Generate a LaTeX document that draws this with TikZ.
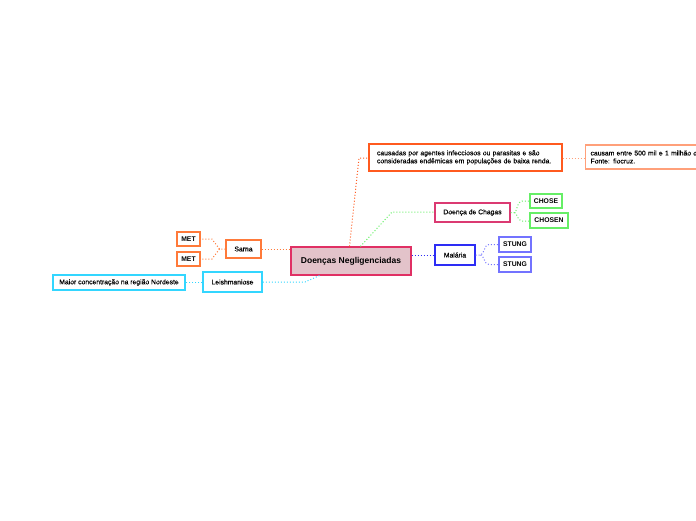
\documentclass[tikz,border=0pt]{standalone}
\usepackage{fontspec}
\setmainfont{Liberation Sans}
\newfontfamily\regf{Liberation Sans}[FakeBold=0.35]
\definecolor{cenfill}{RGB}{227,195,202}
\definecolor{CenBorder}{RGB}{224,48,100}
\definecolor{orbord}{RGB}{255,90,31}
\definecolor{salbord}{RGB}{255,160,122}
\definecolor{chagbord}{RGB}{219,58,114}
\definecolor{grbord}{RGB}{102,238,102}
\definecolor{MalBlue}{RGB}{45,45,245}
\definecolor{stbord}{RGB}{115,115,255}
\definecolor{sabord}{RGB}{255,122,58}
\definecolor{cybord}{RGB}{51,214,255}
\tikzset{
  box/.style={draw, line width=1.1pt, fill=white, rectangle, inner sep=0pt,
    font=\regf\fontsize{6.8}{8}\selectfont},
  bbox/.style={box, font=\fontsize{6.8}{8}\bfseries\selectfont},
  link/.style={dotted, line width=1pt},
}
\begin{document}
\begin{tikzpicture}[x=1pt,y=-1pt]
\useasboundingbox (0,0) rectangle (696,520);
\clip (0,0) rectangle (696,520);
% nodes
\node[box, draw=CenBorder, fill=cenfill, minimum width=120pt, minimum height=28pt, font=\fontsize{8.5}{10}\bfseries\selectfont] (c) at (351,261) {Doenças Negligenciadas};
\node[box, draw=orbord, minimum width=193pt, minimum height=27pt, align=left, text width=177pt] (o) at (465.5,157.5) {causadas por agentes infecciosos ou parasitas e são\\consideradas endêmicas em populações de baixa renda.};
\node[box, draw=salbord, minimum width=140pt, minimum height=24pt, align=left, text width=130pt, anchor=west] (r) at (585,157) {causam entre 500 mil e 1 milhão de\\Fonte: fiocruz.};
\node[box, draw=chagbord, minimum width=75pt, minimum height=19pt] (ch) at (472.5,212.5) {Doença de Chagas};
\node[bbox, draw=grbord, minimum width=32pt, minimum height=14pt] (g1) at (546,201) {CHOSE};
\node[bbox, draw=grbord, minimum width=38pt, minimum height=15pt] (g2) at (549,220.5) {CHOSEN};
\node[box, draw=MalBlue, minimum width=40pt, minimum height=20pt] (m) at (455,255) {Malária};
\node[bbox, draw=stbord, minimum width=32pt, minimum height=15pt] (s1) at (515,244.5) {STUNG};
\node[bbox, draw=stbord, minimum width=32pt, minimum height=15pt] (s2) at (515,264.5) {STUNG};
\node[box, draw=sabord, minimum width=35pt, minimum height=18pt] (sa) at (243.5,249) {Sarna};
\node[bbox, draw=sabord, minimum width=23pt, minimum height=14pt] (me1) at (188.5,239) {MET};
\node[bbox, draw=sabord, minimum width=23pt, minimum height=14pt] (me2) at (188.5,259) {MET};
\node[box, draw=cybord, minimum width=59pt, minimum height=20pt] (l) at (232.5,282) {Leishmaniose};
\node[box, draw=cybord, minimum width=132pt, minimum height=15pt] (mc) at (119,282.5) {Maior concentração na região Nordeste};
% connectors
\draw[link, draw=orbord] (c.north west) ++(59,0) -- (359,158) -- (o.west |- 0,158);
\draw[link, draw=salbord] (o.east |- 0,158) -- (r.west |- 0,158);
\draw[link, draw=grbord] (c.north west) ++(70,0) -- (392,212) -- (ch.west |- 0,212);
\draw[link, draw=grbord] (ch.east) -- ++(4,0) .. controls (517,212) and (517,201) .. (522,201) -- (g1.west);
\draw[link, draw=grbord] (ch.east) ++(4,0) .. controls (517,212) and (517,221) .. (522,221) -- (g2.west |- 0,221);
\draw[link, draw=MalBlue] (c.east |- m.west) -- (m.west);
\draw[link, draw=stbord] (m.east) -- ++(5,0) .. controls (484,255) and (484,244.5) .. (489,244.5) -- (s1.west);
\draw[link, draw=stbord] (m.east) ++(5,0) .. controls (484,255) and (484,264.5) .. (489,264.5) -- (s2.west);
\draw[link, draw=sabord] (sa.east) -- (c.west |- sa.east);
\draw[link, draw=sabord] (sa.west) -- ++(-6,0) -- (212,239) -- (me1.east);
\draw[link, draw=sabord] (sa.west) ++(-6,0) -- (212,259) -- (me2.east);
\draw[link, draw=cybord] (c.south west) ++(29,0) -- (305,282) -- (l.east);
\draw[link, draw=cybord] (l.west) -- (mc.east |- l.west);
\end{tikzpicture}
\end{document}
